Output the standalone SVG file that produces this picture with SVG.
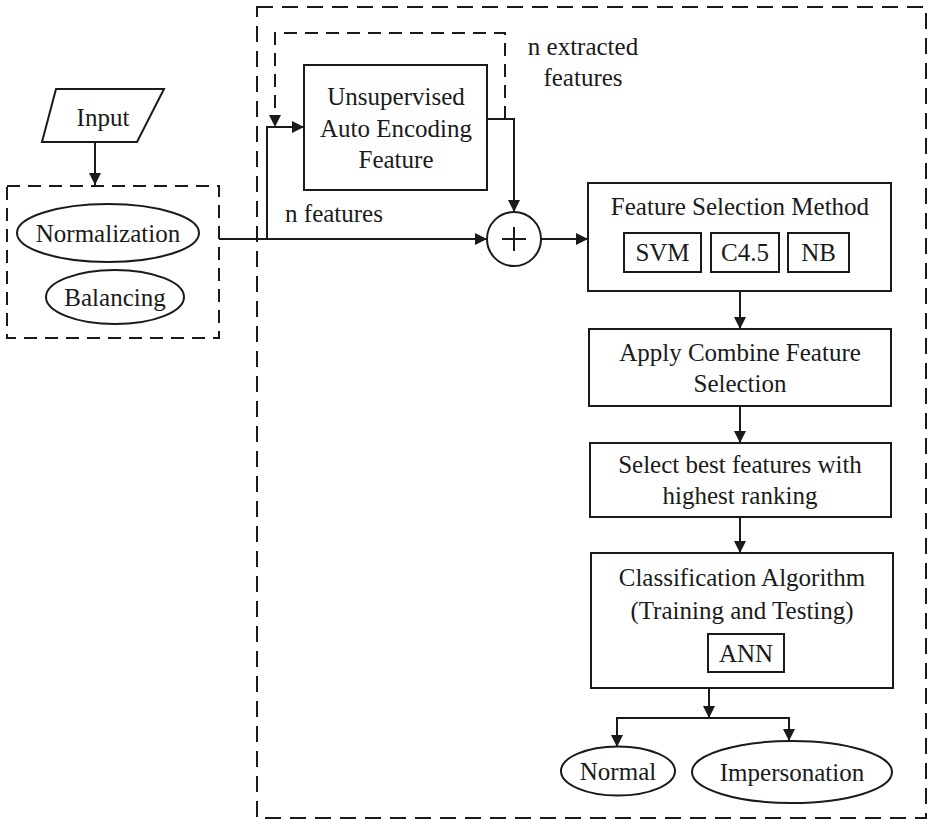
<svg xmlns="http://www.w3.org/2000/svg" width="928" height="820" viewBox="0 0 928 820">
  <defs>
    <marker id="arrow" viewBox="0 0 12 12" refX="12" refY="6" markerWidth="12" markerHeight="12" markerUnits="userSpaceOnUse" orient="auto">
      <path d="M0,0 L12,6 L0,12 z" fill="#1a1a1a"/>
    </marker>
  </defs>
  <style>
    .shape { fill: #ffffff; stroke: #1a1a1a; stroke-width: 2; }
    .dash { fill: none; stroke: #1a1a1a; stroke-width: 2; stroke-dasharray: 16 9; }
    .dash-s { fill: none; stroke: #1a1a1a; stroke-width: 2; stroke-dasharray: 13 8; }
    .line { fill: none; stroke: #1a1a1a; stroke-width: 2; }
    .arr { fill: none; stroke: #1a1a1a; stroke-width: 2; marker-end: url(#arrow); }
    text { font-family: "Liberation Serif", "Times New Roman", serif; font-size: 25px; fill: #1a1a1a; text-anchor: middle; }
  </style>
  <rect width="928" height="820" fill="#ffffff"/>

  <!-- group frames -->
  <rect id="pipeline-frame" class="dash" x="257" y="7" width="669" height="811"/>
  <rect id="preprocess-frame" class="dash-s" x="7" y="186" width="212" height="152"/>

  <!-- connectors -->
  <g id="connectors">
    <path class="arr" d="M95,142 L95,185"/>
    <path class="arr" d="M219,239 L487,239"/>
    <path class="arr" d="M267,239 L267,127 L304,127"/>
    <path class="dash-s" d="M505,119 L505,33 L275,33 L275,118"/>
    <path d="M269,115 L281,115 L275,127 z" fill="#1a1a1a"/>
    <path class="arr" d="M487,119 L514,119 L514,212"/>
    <path class="arr" d="M541,239 L588,239"/>
    <path class="arr" d="M740,291 L740,329"/>
    <path class="arr" d="M740,406 L740,443"/>
    <path class="arr" d="M740,517 L740,553"/>
    <path class="arr" d="M709,688 L709,718"/>
    <path class="line" d="M617,718 L789,718"/>
    <path class="arr" d="M617,717 L617,747"/>
    <path class="arr" d="M789,717 L789,741"/>
  </g>

  <!-- edge labels -->
  <text x="334" y="222">n features</text>
  <text x="583" y="55">n extracted</text>
  <text x="583" y="86">features</text>

  <g id="input">
    <polygon class="shape" points="56,89 164,89 137,142 42,142"/>
    <text x="103" y="126">Input</text>
  </g>

  <g id="normalization">
    <ellipse class="shape" cx="108" cy="233" rx="91" ry="29"/>
    <text x="108" y="242">Normalization</text>
  </g>

  <g id="balancing">
    <ellipse class="shape" cx="115" cy="297" rx="69" ry="27"/>
    <text x="115" y="306">Balancing</text>
  </g>

  <g id="autoencoder">
    <rect class="shape" x="304" y="65" width="183" height="125"/>
    <text x="396" y="105">Unsupervised</text>
    <text x="396" y="137">Auto Encoding</text>
    <text x="396" y="168">Feature</text>
  </g>

  <g id="combine">
    <circle class="shape" cx="514" cy="239" r="27"/>
    <path class="line" d="M502,239 L526,239 M514,227 L514,251"/>
  </g>

  <g id="feature-selection">
    <rect class="shape" x="588" y="183" width="303" height="108"/>
    <text x="740" y="215">Feature Selection Method</text>
    <rect class="shape" x="624" y="233" width="77" height="39"/>
    <text x="662.5" y="261">SVM</text>
    <rect class="shape" x="711" y="233" width="68" height="39"/>
    <text x="745" y="261">C4.5</text>
    <rect class="shape" x="788" y="233" width="61" height="39"/>
    <text x="818.5" y="261">NB</text>
  </g>

  <g id="combined-selection">
    <rect class="shape" x="589" y="329" width="302" height="77"/>
    <text x="740" y="361">Apply Combine Feature</text>
    <text x="740" y="392">Selection</text>
  </g>

  <g id="best-features">
    <rect class="shape" x="590" y="443" width="301" height="74"/>
    <text x="740" y="473">Select best features with</text>
    <text x="740" y="504">highest ranking</text>
  </g>

  <g id="classification">
    <rect class="shape" x="591" y="553" width="302" height="135"/>
    <text x="742" y="586">Classification Algorithm</text>
    <text x="742" y="619">(Training and Testing)</text>
    <rect class="shape" x="708" y="634" width="76" height="38"/>
    <text x="746" y="662">ANN</text>
  </g>

  <g id="normal">
    <ellipse class="shape" cx="618" cy="771" rx="57" ry="24.5"/>
    <text x="618" y="780">Normal</text>
  </g>

  <g id="impersonation">
    <ellipse class="shape" cx="792" cy="772" rx="100" ry="31"/>
    <text x="792" y="781">Impersonation</text>
  </g>
</svg>
